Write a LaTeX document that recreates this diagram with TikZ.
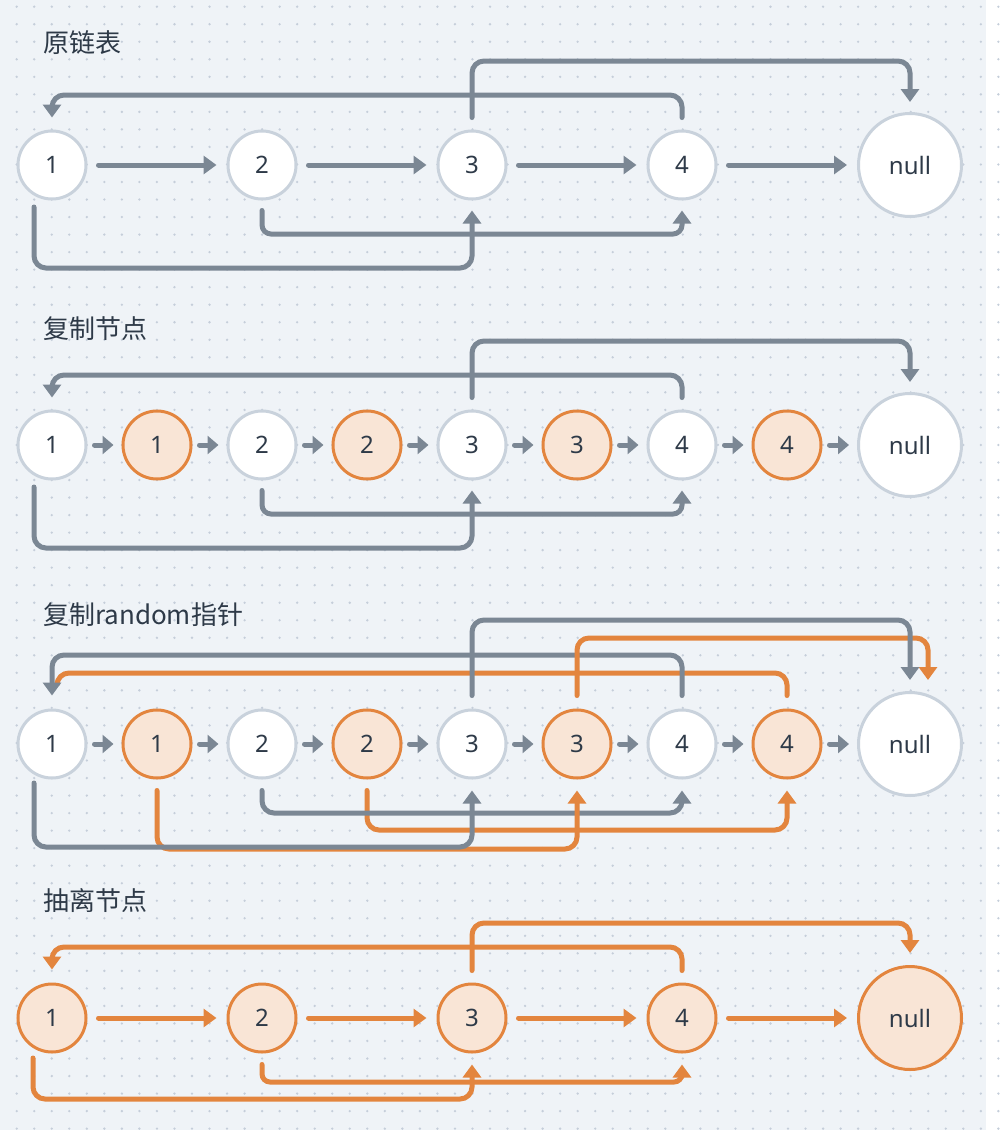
\documentclass[tikz,border=0pt]{standalone}
\usepackage{fontspec}
\setmainfont{Noto Sans}
\newfontfamily\cjk{Noto Sans CJK SC}
\usetikzlibrary{arrows.meta}
\definecolor{bg}{HTML}{EFF3F7}
\definecolor{dotc}{HTML}{C5CEDA}
\definecolor{gline}{HTML}{7B8794}
\definecolor{oline}{HTML}{E3853E}
\definecolor{ofill}{HTML}{F9E5D6}
\definecolor{gstroke}{HTML}{C9D2DC}
\definecolor{txt}{HTML}{2E3A48}
\begin{document}
\begin{tikzpicture}[x=1pt,y=-1pt,
 wnode/.style={circle,draw=gstroke,fill=white,line width=3pt,minimum size=68pt,inner sep=0pt,font=\fontsize{24}{24}\selectfont,text=txt},
 onode/.style={wnode,draw=oline,fill=ofill},
 wnull/.style={wnode,minimum size=103pt},
 onull/.style={onode,minimum size=103pt},
 gl/.style={draw=gline,line width=5pt,line cap=round,rounded corners=12pt},
 ol/.style={gl,draw=oline},
 lt/.style={-{Triangle[length=13pt,width=18pt]}},
 st/.style={-{Triangle[length=11pt,width=18pt]}},
 ttl/.style={anchor=west,font=\cjk\fontsize{26}{26}\selectfont,text=txt,inner sep=0pt}]
\fill[bg] (0,0) rectangle (986,1130);
\foreach \i in {0,...,56} \foreach \j in {0,...,64} \fill[dotc] (16.7+17.53*\i, 6.7+17.53*\j) circle (1.3pt);
\useasboundingbox (0,0) rectangle (986,1130);

% ---------- titles
\node[ttl] (t1) at (43,43) {原链表};
\node[ttl] (t2) at (43,329) {复制节点};
\node[ttl] (t3) at (43,615) {复制random指针};
\node[ttl] (t4) at (43,901) {抽离节点};

% ---------- row 1
\node[wnode] (a1) at (52,165) {1};
\node[wnode] (a2) at (262,165) {2};
\node[wnode] (a3) at (472,165) {3};
\node[wnode] (a4) at (682,165) {4};
\node[wnull] (an) at (910,165) {null};
\draw[gl,lt] ([xshift=11pt]a1.east) -- ([xshift=-10pt]a2.west);
\draw[gl,lt] ([xshift=11pt]a2.east) -- ([xshift=-10pt]a3.west);
\draw[gl,lt] ([xshift=11pt]a3.east) -- ([xshift=-10pt]a4.west);
\draw[gl,lt] ([xshift=11pt]a4.east) -- ([xshift=-10pt]an.west);
\draw[gl,lt] ([yshift=12pt]a3.north) -- (a3.center |- 0,61) -| ([yshift=10pt]an.north);
\draw[gl,lt] ([yshift=12pt]a4.north) -- (a4.center |- 0,95) -| ([yshift=12pt]a1.north);
\draw[gl,lt,rounded corners=9pt] ([yshift=-10pt]a2.south) -- (a2.center |- 0,234) -| ([yshift=-10pt]a4.south);
\coordinate (sa1) at ([shift={(-18pt,-42pt)}]a1.center);
\draw[gl,lt] (sa1) -- (sa1 |- 0,268) -| ([yshift=-10pt]a3.south);

% ---------- row 2
\node[wnode] (b1) at (52,445) {1};
\node[onode] (c1) at (157,445) {1};
\node[wnode] (b2) at (262,445) {2};
\node[onode] (c2) at (367,445) {2};
\node[wnode] (b3) at (472,445) {3};
\node[onode] (c3) at (577,445) {3};
\node[wnode] (b4) at (682,445) {4};
\node[onode] (c4) at (787,445) {4};
\node[wnull] (bn) at (910,445) {null};
\foreach \p/\q in {b1/c1,c1/b2,b2/c2,c2/b3,b3/c3,c3/b4,b4/c4,c4/bn}
  \draw[gl,st] ([xshift=7pt]\p.east) -- ([xshift=-8pt]\q.west);
\draw[gl,lt] ([yshift=12pt]b3.north) -- (b3.center |- 0,341) -| ([yshift=10pt]bn.north);
\draw[gl,lt] ([yshift=12pt]b4.north) -- (b4.center |- 0,375) -| ([yshift=12pt]b1.north);
\draw[gl,lt,rounded corners=9pt] ([yshift=-10pt]b2.south) -- (b2.center |- 0,514) -| ([yshift=-10pt]b4.south);
\coordinate (sb1) at ([shift={(-18pt,-42pt)}]b1.center);
\draw[gl,lt] (sb1) -- (sb1 |- 0,548) -| ([yshift=-10pt]b3.south);

% ---------- row 3
\node[wnode] (d1) at (52,744) {1};
\node[onode] (e1) at (157,744) {1};
\node[wnode] (d2) at (262,744) {2};
\node[onode] (e2) at (367,744) {2};
\node[wnode] (d3) at (472,744) {3};
\node[onode] (e3) at (577,744) {3};
\node[wnode] (d4) at (682,744) {4};
\node[onode] (e4) at (787,744) {4};
\node[wnull] (dn) at (910,744) {null};
\foreach \p/\q in {d1/e1,e1/d2,d2/e2,e2/d3,d3/e3,e3/d4,d4/e4,e4/dn}
  \draw[gl,st] ([xshift=7pt]\p.east) -- ([xshift=-8pt]\q.west);
% bottom
\draw[ol,lt] ([yshift=-11pt]e2.south) -- (e2.center |- 0,830) -| ([yshift=-11pt]e4.south);
\draw[gl,lt] ([yshift=-11pt]d2.south) -- (d2.center |- 0,813) -| ([yshift=-11pt]d4.south);
\draw[ol,lt] ([yshift=-11pt]e1.south) -- (e1.center |- 0,849) -| ([yshift=-11pt]e3.south);
\coordinate (sd1) at ([shift={(-18pt,-39pt)}]d1.center);
\draw[gl,lt] (sd1) -- (sd1 |- 0,847) -| ([yshift=-11pt]d3.south);
% top
\coordinate (ed1) at ([shift={(5pt,26pt)}]d1.north);
\draw[ol] ([yshift=13pt]e4.north) -- (e4.center |- 0,673) -| (ed1);
\draw[gl,lt] ([yshift=13pt]d4.north) -- (d4.center |- 0,655) -| ([yshift=13pt]d1.north);
\coordinate (edn) at ([shift={(18pt,11pt)}]dn.north);
\draw[ol,lt] ([yshift=13pt]e3.north) -- (e3.center |- 0,638) -| (edn);
\draw[gl,lt] ([yshift=13pt]d3.north) -- (d3.center |- 0,620) -| ([yshift=11pt]dn.north);

% ---------- row 4
\node[onode] (f1) at (52,1018) {1};
\node[onode] (f2) at (262,1018) {2};
\node[onode] (f3) at (472,1018) {3};
\node[onode] (f4) at (682,1018) {4};
\node[onull] (fn) at (910,1018) {null};
\draw[ol,lt] ([xshift=11pt]f1.east) -- ([xshift=-10pt]f2.west);
\draw[ol,lt] ([xshift=11pt]f2.east) -- ([xshift=-10pt]f3.west);
\draw[ol,lt] ([xshift=11pt]f3.east) -- ([xshift=-10pt]f4.west);
\draw[ol,lt] ([xshift=11pt]f4.east) -- ([xshift=-10pt]fn.west);
\draw[ol,lt] ([yshift=12pt]f3.north) -- (f3.center |- 0,923) -| ([yshift=12pt]fn.north);
\draw[ol,lt] ([yshift=12pt]f4.north) -- (f4.center |- 0,947) -| ([yshift=13pt]f1.north);
\draw[ol,lt,rounded corners=8pt] ([yshift=-11pt]f2.south) -- (f2.center |- 0,1082) -| ([yshift=-11pt]f4.south);
\coordinate (sf1) at ([shift={(-19pt,-40pt)}]f1.center);
\draw[ol,lt] (sf1) -- (sf1 |- 0,1099) -| ([yshift=-11pt]f3.south);
\end{tikzpicture}
\end{document}
